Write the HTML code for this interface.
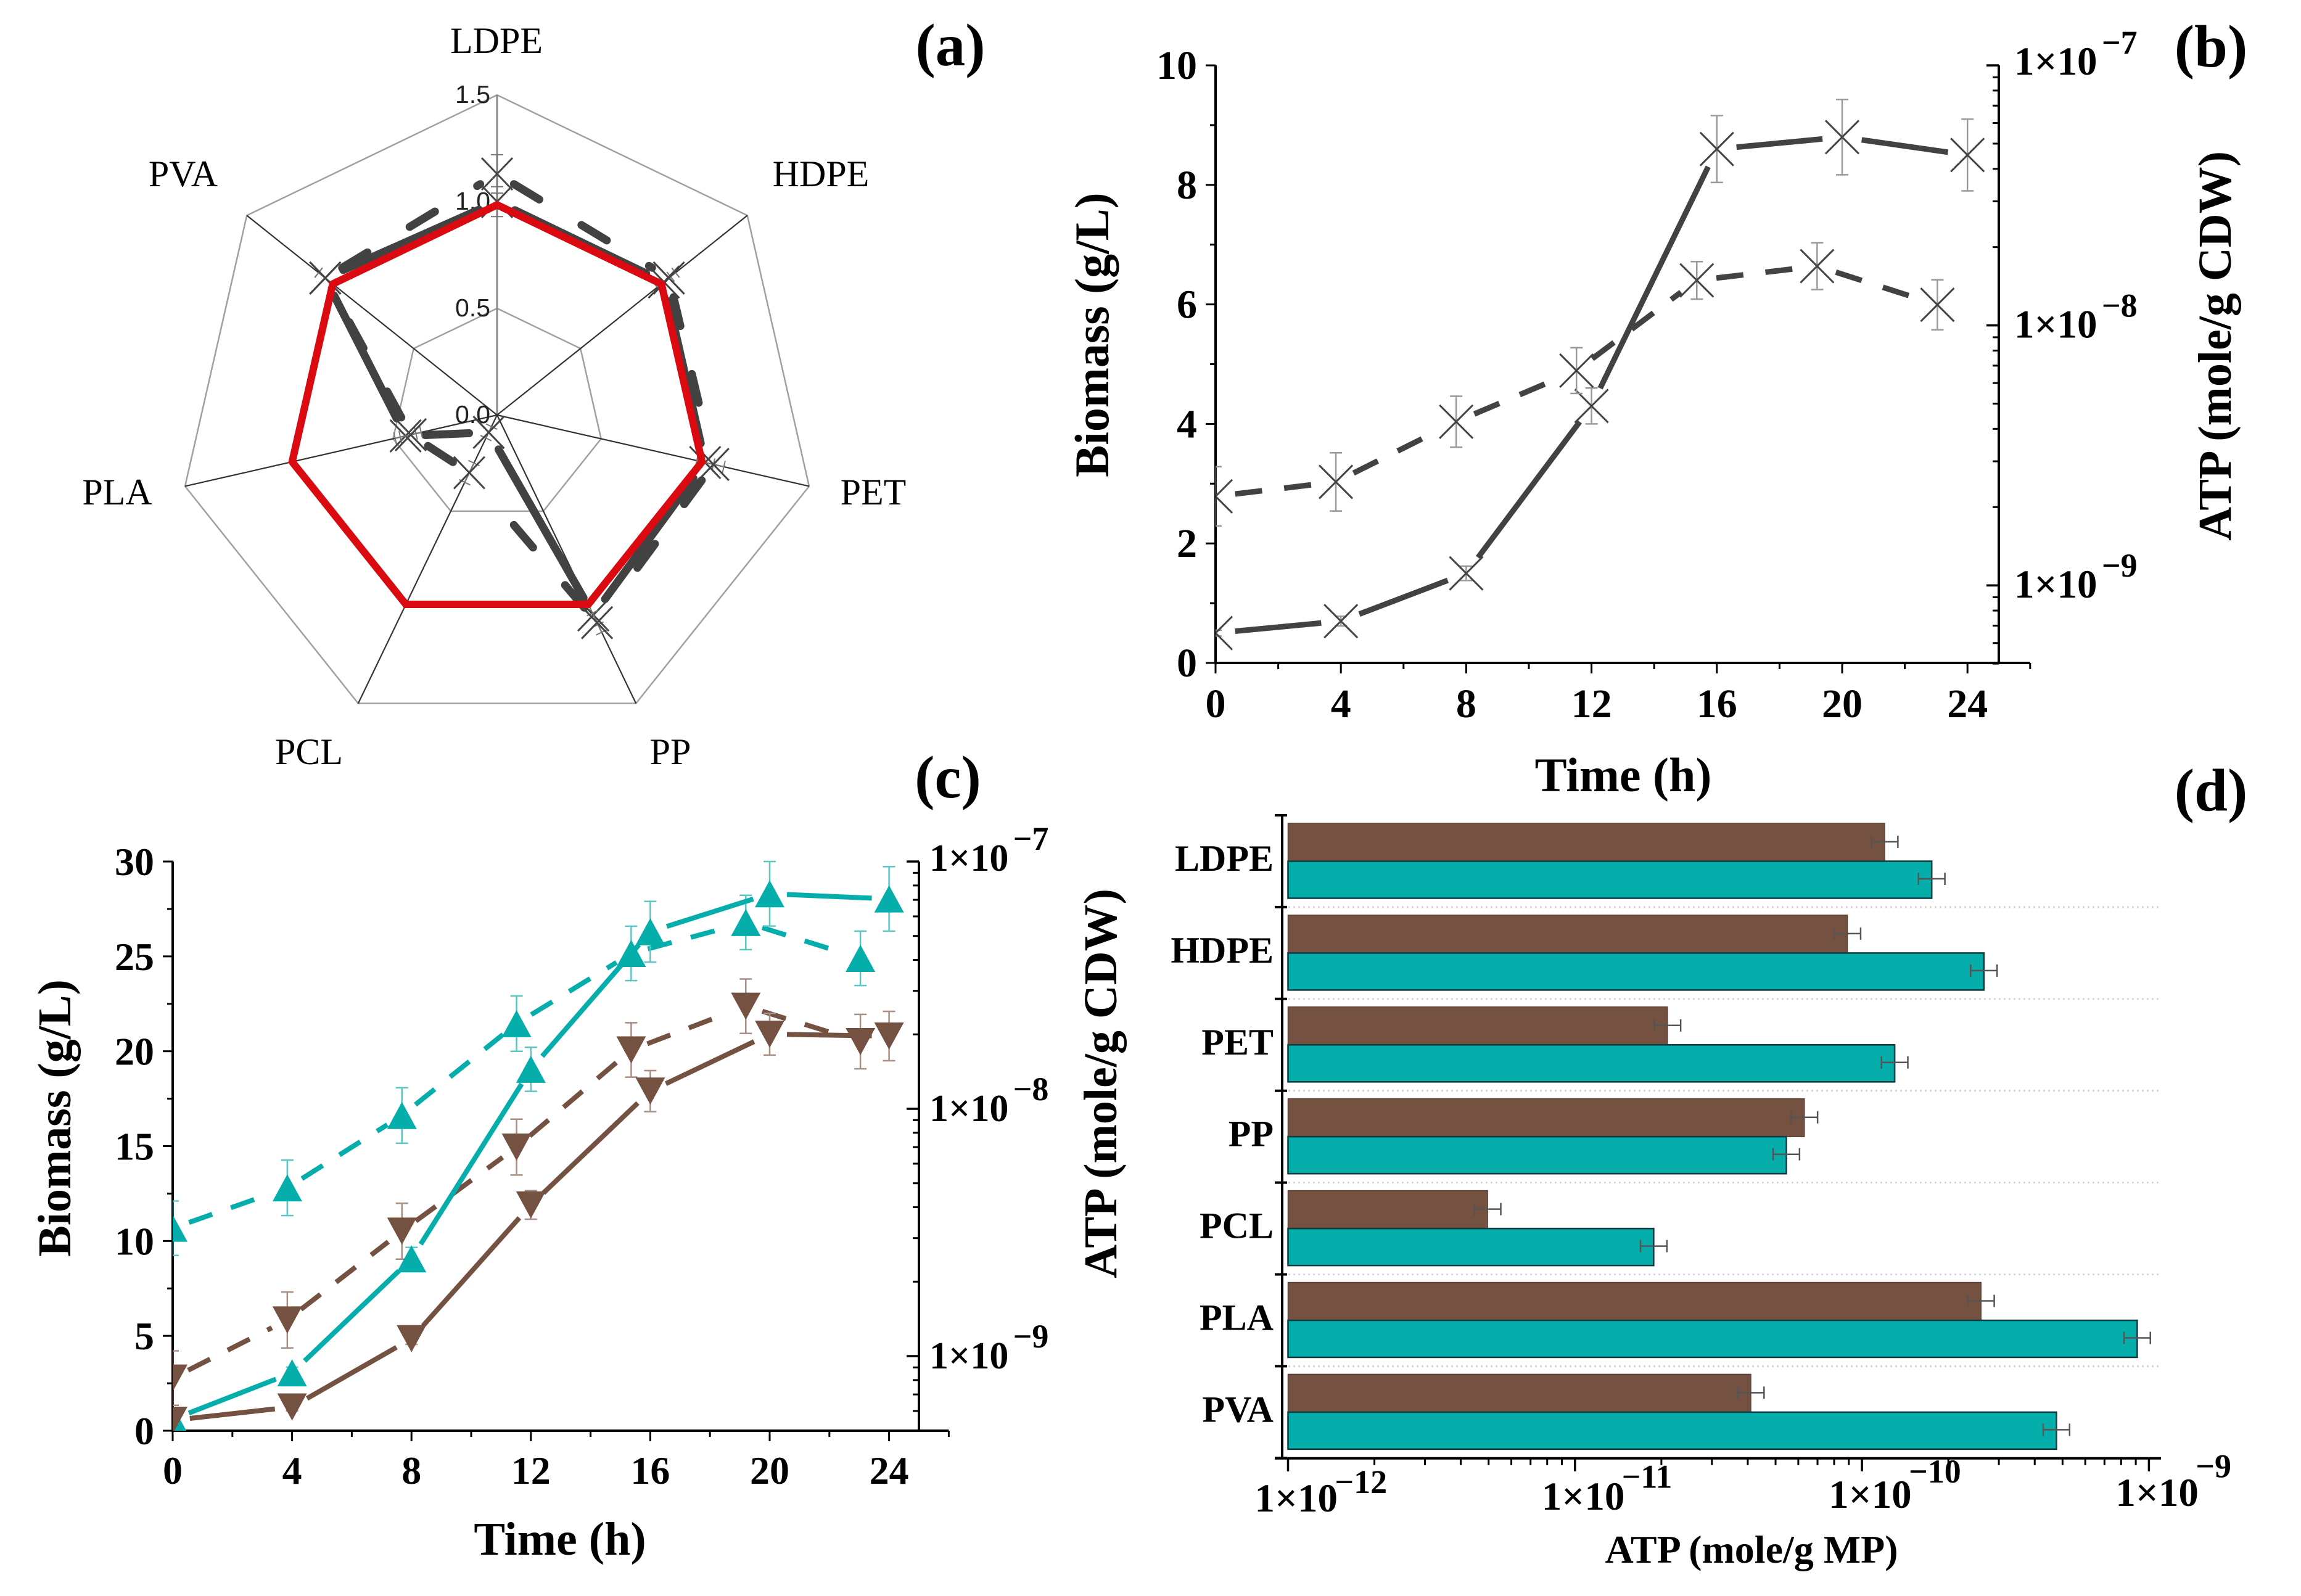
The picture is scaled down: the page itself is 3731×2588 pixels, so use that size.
<!DOCTYPE html>
<html lang="en">
<head>
<meta charset="utf-8">
<title>Biomass and ATP on plastics</title>
<style>
html,body{margin:0;padding:0;background:#fff;}
svg{display:block;}
text{font-family:"Liberation Serif",serif;fill:#000;}
</style>
</head>
<body>
<svg id="fig" xmlns="http://www.w3.org/2000/svg" width="3731" height="2588" viewBox="0 0 3731 2588">
<defs>
<clipPath id="clip-b"><rect x="1971" y="60" width="1300" height="1015"/></clipPath>
<clipPath id="clip-c"><rect x="280" y="1350" width="1240" height="970"/></clipPath>
</defs>
<rect width="3731" height="2588" fill="#fff"/>
</svg>
<script>
// ---------- data ----------
const plastics = ['LDPE','HDPE','PET','PP','PCL','PLA','PVA'];
const radarTicks = [0,0.5,1,1.5];
const radarReference = [0.985,0.985,0.985,0.985,0.985,0.985,0.985];
const radarSolid = [1,1,1,1.04,0.09,0.44,1.03];
const radarSolidErr = [0.07,0.04,0.04,0.05,0.03,0.05,0.04];
const radarDashed = [1.13,1.03,1.04,1.08,0.3,0.415,1.03];
const radarDashedErr = [0.09,0.04,0.05,0.05,0.05,0.05,0.04];

const hours = [0,4,8,12,16,20,24];
const atpHours = [0,3.84,7.68,11.52,15.36,19.2,23.04];

const bBiomass = [0.5,0.7,1.5,4.3,8.6,8.8,8.5];
const bBiomassErr = [0.05,0.08,0.12,0.3,0.56,0.63,0.6];
const bAtp = [2.2e-9,2.5e-9,4.26e-9,6.7e-9,1.49e-8,1.69e-8,1.2e-8];
const bAtpErrDecades = [0.114,0.112,0.098,0.088,0.072,0.09,0.096];

const cTealBiomass = [0.6,3.05,9.06,19.05,26.3,28.3,28.03];
const cTealBiomassErr = [0.2,0.3,0.6,1.16,1.6,1.7,1.7];
const cTealAtp = [3.29e-9,4.79e-9,9.4e-9,2.21e-8,4.25e-8,5.67e-8,4.06e-8];
const cTealAtpErrDecades = [0.11,0.112,0.112,0.112,0.11,0.11,0.11];
const cBrownBiomass = [0.55,1.25,4.85,11.9,17.9,20.9,20.8];
const cBrownBiomassErr = [0.15,0.2,0.3,0.75,1.08,1.1,1.3];
const cBrownAtp = [8.15e-10,1.4e-9,3.2e-9,7.0e-9,1.73e-8,2.6e-8,1.87e-8];
const cBrownAtpErrDecades = [0.11,0.113,0.113,0.113,0.11,0.11,0.11];

const dBrownAtp = [1.2e-10,8.9e-11,2.1e-11,6.3e-11,4.96e-12,2.6e-10,4.1e-11];
const dTealAtp = [1.75e-10,2.66e-10,1.3e-10,5.45e-11,1.88e-11,9.1e-10,4.76e-10];
const dErrDecades = [0.046,0.046,0.046,0.046,0.046,0.046,0.046];

const xTickLabels = [0,4,8,12,16,20,24];
const bYTickLabels = [0,2,4,6,8,10];
const cYTickLabels = [0,5,10,15,20,25,30];
const atpExponents = [-7,-8,-9];
const dExponents = [-12,-11,-10,-9];

// ---------- helpers ----------
const NS = 'http://www.w3.org/2000/svg';
const root = document.getElementById('fig');
const TEAL = '#05adab';
const BROWN = '#755142';
const DARK = '#424242';

function add(parent, tag, attrs, name) {
  const el = document.createElementNS(NS, tag);
  for (const k in attrs) el.setAttribute(k, attrs[k]);
  
  
  parent.appendChild(el);
  return el;
}
function line(p, x1, y1, x2, y2, stroke, w, name, extra) {
  return add(p, 'line', Object.assign({x1, y1, x2, y2, stroke, 'stroke-width': w}, extra || {}), name);
}
function text(p, x, y, str, size, weight, anchor, name, extra) {
  const t = add(p, 'text', Object.assign({x, y, 'font-size': size, 'font-weight': weight, 'text-anchor': anchor}, extra || {}), name);
  t.textContent = str;
  return t;
}
function rotText(p, x, y, str, size, name) {
  return text(p, x, y, str, size, 'bold', 'middle', name, {transform: 'rotate(-90 ' + x + ' ' + y + ')'});
}
function group(name, clip) {
  const a = clip ? {'clip-path': 'url(#' + clip + ')'} : {};
  return add(root, 'g', a, name);
}
function sci(p, x, y, exp, size, expSize, rise, expDx, name) {
  text(p, x, y, '1×10', size, 'bold', 'start', name);
  const label = '\u2212' + Math.abs(exp);
  text(p, x + size * 2.09 + expDx, y - rise, label, expSize, 'bold', 'start', name + '-exponent');
}

// ---------- panel letters ----------
[['(a)',1541,106],['(b)',3585,108],['(c)',1537,1293],['(d)',3585,1314]].forEach(function (d) {
  text(root, d[1], d[2], d[0], 97, 'bold', 'middle', 'panel-label');
});

// ---------- panel a: radar ----------
(function () {
  const cx = 806, cy = 673, unit = 346;
  const n = plastics.length;
  const rx = function (v, i) { return cx + unit * v * Math.sin(2 * Math.PI * i / n); };
  const ry = function (v, i) { return cy - unit * v * Math.cos(2 * Math.PI * i / n); };
  const g = group('radar-chart');
  const ringMax = radarTicks[radarTicks.length - 1];
  radarTicks.slice(1).forEach(function (t) {
    const pts = plastics.map(function (_, i) { return rx(t, i) + ',' + ry(t, i); }).join(' ');
    add(g, 'polygon', {points: pts, fill: 'none', stroke: '#a0a0a0', 'stroke-width': 2.5}, 'radar-grid-ring');
  });
  plastics.forEach(function (_, i) {
    line(g, cx, cy, rx(ringMax, i), ry(ringMax, i), i === 0 ? '#888' : '#333', i === 0 ? 3 : 2.2, 'radar-spoke');
  });
  radarTicks.forEach(function (t) {
    text(g, 795, cy - unit * t + 13, t.toFixed(1), 41, 'normal', 'end', 'radar-tick-label', {'style': 'font-family:"Liberation Sans",sans-serif;fill:#222'});
  });
  const labelSpots = [[805,86],[1331,302],[1416,818],[1087,1239],[501,1239],[190,818],[297,302]];
  plastics.forEach(function (nm, i) {
    text(g, labelSpots[i][0], labelSpots[i][1], nm, 60, 'normal', 'middle', 'radar-axis-label');
  });
  function ring(vals, dash, nm) {
    vals.forEach(function (v, i) {
      const j = (i + 1) % n;
      const x1 = rx(v, i), y1 = ry(v, i), x2 = rx(vals[j], j), y2 = ry(vals[j], j);
      const L = Math.hypot(x2 - x1, y2 - y1);
      const gap = Math.min(32, L * 0.28);
      const ux = (x2 - x1) / L, uy = (y2 - y1) / L;
      const extra = {'stroke-linecap': 'round'};
      if (dash) extra['stroke-dasharray'] = dash;
      line(g, x1 + ux * gap, y1 + uy * gap, x2 - ux * gap, y2 - uy * gap, DARK, 13, nm, extra);
    });
  }
  ring(radarSolid, null, 'radar-solid-segment');
  ring(radarDashed, '48 80', 'radar-dashed-segment');
  function marks(vals, errs, nm) {
    vals.forEach(function (v, i) {
      const x = rx(v, i), y = ry(v, i);
      const s = Math.sin(2 * Math.PI * i / n), c = Math.cos(2 * Math.PI * i / n);
      const x1 = rx(v + errs[i], i), y1 = ry(v + errs[i], i), x2 = rx(v - errs[i], i), y2 = ry(v - errs[i], i);
      line(g, x1, y1, x2, y2, '#777', 2, nm + '-error-bar');
      [[x1, y1], [x2, y2]].forEach(function (q) {
        line(g, q[0] - c * 10, q[1] - s * 10, q[0] + c * 10, q[1] + s * 10, '#777', 2, nm + '-error-cap');
      });
      line(g, x - 25, y - 26, x + 25, y + 26, '#444', 3, nm + '-marker');
      line(g, x - 25, y + 26, x + 25, y - 26, '#444', 3, nm + '-marker');
    });
  }
  marks(radarSolid, radarSolidErr, 'radar-solid');
  marks(radarDashed, radarDashedErr, 'radar-dashed');
  const red = plastics.map(function (_, i) { return rx(radarReference[i], i) + ',' + ry(radarReference[i], i); }).join(' ');
  add(g, 'polygon', {points: red, fill: 'none', stroke: '#db0a10', 'stroke-width': 12, 'stroke-linejoin': 'miter'}, 'radar-reference-line');
})();

// ---------- time-course panels ----------
function timePanel(cfg) {
  const g = group(cfg.name);
  const X = function (h) { return cfg.x0 + h * cfg.xUnit; };
  const Y = function (v) { return cfg.yBottom - (v / cfg.yMax) * (cfg.yBottom - cfg.yTop); };
  const YL = function (v) { return cfg.yTop + (-7 - Math.log10(v)) * cfg.decade; };

  // axes
  const rightX = X(25), xEnd = X(26);
  line(g, X(0), cfg.yTop, X(0), cfg.yBottom, '#000', 4, 'left-y-axis');
  line(g, rightX, cfg.yTop, rightX, cfg.yBottom, '#000', 4, 'right-y-axis');
  line(g, X(0) - 2, cfg.yBottom, xEnd, cfg.yBottom, '#000', 4, 'x-axis');
  for (let h = 0; h <= 26; h += 2) {
    line(g, X(h), cfg.yBottom, X(h), cfg.yBottom + (h % 4 === 0 ? 17 : 10), '#000', 3, 'x-tick');
  }
  xTickLabels.forEach(function (h) {
    text(g, X(h), cfg.xLabelY, String(h), cfg.tickSize, 'bold', 'middle', 'x-tick-label');
  });
  cfg.yTicks.forEach(function (v, i) {
    line(g, X(0) - 16, Y(v), X(0), Y(v), '#000', 3, 'left-y-tick');
    text(g, X(0) - 30, Y(v) + 22, String(v), cfg.tickSize, 'bold', 'end', 'left-y-tick-label');
    if (i < cfg.yTicks.length - 1) {
      const m = (v + cfg.yTicks[i + 1]) / 2;
      line(g, X(0) - 9, Y(m), X(0), Y(m), '#000', 3, 'left-y-minor-tick');
    }
  });
  atpExponents.forEach(function (e) {
    const base = Math.pow(10, e);
    line(g, rightX - 20, YL(base), rightX, YL(base), '#000', 3.5, 'right-y-tick');
    sci(g, rightX + cfg.sciDx, YL(base) + (e === -7 ? 15 : 20), e, cfg.sciSize, 54, 34, 6, 'right-y-tick-label');
    for (let k = 2; k < 10; k++) {
      const v = k * base / 10;
      if (v >= 5e-10) line(g, rightX - 10, YL(v), rightX, YL(v), '#000', 3, 'right-y-minor-tick');
    }
  });

  // titles
  rotText(g, cfg.leftTitleX, cfg.leftTitleY, 'Biomass (g/L)', cfg.titleSize, 'left-y-axis-title');
  if (cfg.rightTitleX) rotText(g, cfg.rightTitleX, cfg.rightTitleY, 'ATP (mole/g CDW)', 76, 'right-y-axis-title');
  text(g, cfg.timeX, cfg.timeY, 'Time (h)', cfg.titleSize, 'bold', 'middle', 'x-axis-title');

  // series
  const plot = group(cfg.name + '-plot', cfg.clip);
  cfg.series.forEach(function (s) {
    const isAtp = s.axis === 'atp';
    const px = s.xs.map(X);
    const py = s.ys.map(isAtp ? YL : Y);
    for (let i = 0; i < px.length - 1; i++) {
      const L = Math.hypot(px[i + 1] - px[i], py[i + 1] - py[i]);
      const ux = (px[i + 1] - px[i]) / L, uy = (py[i + 1] - py[i]) / L;
      const extra = {};
      if (s.dash) extra['stroke-dasharray'] = s.dash;
      line(plot, px[i] + ux * cfg.gap, py[i] + uy * cfg.gap, px[i + 1] - ux * cfg.gap, py[i + 1] - uy * cfg.gap, s.color, cfg.lineWidth, s.name + '-segment', extra);
    }
    px.forEach(function (x, i) {
      const v = s.ys[i], e = s.errs[i];
      const hi = isAtp ? YL(v * Math.pow(10, e)) : Y(v + e);
      const lo = isAtp ? YL(v / Math.pow(10, e)) : Y(v - e);
      line(plot, x, hi, x, lo, s.errColor, 2.5, s.name + '-error-bar');
      line(plot, x - 10, hi, x + 10, hi, s.errColor, 2.5, s.name + '-error-cap');
      line(plot, x - 10, lo, x + 10, lo, s.errColor, 2.5, s.name + '-error-cap');
    });
    px.forEach(function (x, i) {
      const y = py[i];
      if (s.marker === 'x') {
        line(plot, x - 27, y - 27, x + 27, y + 27, '#444', 3, s.name + '-marker');
        line(plot, x - 27, y + 27, x + 27, y - 27, '#444', 3, s.name + '-marker');
      } else if (s.marker === 'up') {
        add(plot, 'polygon', {points: (x - 24) + ',' + (y + 22) + ' ' + (x + 24) + ',' + (y + 22) + ' ' + x + ',' + (y - 22), fill: s.color}, s.name + '-marker');
      } else {
        add(plot, 'polygon', {points: (x - 24) + ',' + (y - 22) + ' ' + (x + 24) + ',' + (y - 22) + ' ' + x + ',' + (y + 22), fill: s.color}, s.name + '-marker');
      }
    });
  });
}

timePanel({
  name: 'biomass-atp-chart-b', clip: 'clip-b',
  x0: 1971, xUnit: 50.8, yTop: 106, yBottom: 1075, yMax: 10, decade: 421.6,
  yTicks: bYTickLabels, tickSize: 66, xLabelY: 1163, sciSize: 65, sciDx: 25,
  titleSize: 78, leftTitleX: 1797, leftTitleY: 543, rightTitleX: 3617, rightTitleY: 561,
  timeX: 2632, timeY: 1283, gap: 32, lineWidth: 9,
  series: [
    {name: 'b-biomass', axis: 'bio', xs: hours, ys: bBiomass, errs: bBiomassErr, color: DARK, errColor: '#999', marker: 'x'},
    {name: 'b-atp', axis: 'atp', xs: atpHours, ys: bAtp, errs: bAtpErrDecades, color: DARK, errColor: '#999', marker: 'x', dash: '44 36'}
  ]
});

timePanel({
  name: 'biomass-atp-chart-c', clip: 'clip-c',
  x0: 280, xUnit: 48.4, yTop: 1397, yBottom: 2320, yMax: 30, decade: 401,
  yTicks: cYTickLabels, tickSize: 64, xLabelY: 2406, sciSize: 62, sciDx: 17,
  titleSize: 76, leftTitleX: 114, leftTitleY: 1813, rightTitleX: 0, rightTitleY: 0,
  timeX: 908, timeY: 2521, gap: 28, lineWidth: 8,
  series: [
    {name: 'c-teal-atp', axis: 'atp', xs: atpHours, ys: cTealAtp, errs: cTealAtpErrDecades, color: TEAL, errColor: '#5cc6c3', marker: 'up', dash: '40 32'},
    {name: 'c-brown-atp', axis: 'atp', xs: atpHours, ys: cBrownAtp, errs: cBrownAtpErrDecades, color: BROWN, errColor: '#a88e83', marker: 'down', dash: '40 32'},
    {name: 'c-teal-biomass', axis: 'bio', xs: hours, ys: cTealBiomass, errs: cTealBiomassErr, color: TEAL, errColor: '#5cc6c3', marker: 'up'},
    {name: 'c-brown-biomass', axis: 'bio', xs: hours, ys: cBrownBiomass, errs: cBrownBiomassErr, color: BROWN, errColor: '#a88e83', marker: 'down'}
  ]
});

// ---------- panel d: log bars ----------
(function () {
  const g = group('atp-bar-chart-d');
  const x12 = 2088.5, dec = 465.3, top = 1322, band = 148.9, axisX = 2079;
  const bottom = top + band * plastics.length + 0.5;
  const X = function (v) { return x12 + (Math.log10(v) + 12) * dec; };
  for (let i = 1; i < plastics.length; i++) {
    line(g, axisX + 10, top + band * i, 3504, top + band * i, '#d8d8d8', 3, 'band-gridline', {'stroke-dasharray': '3 5'});
  }
  plastics.forEach(function (nm, i) {
    const y0 = top + band * i;
    const mid = y0 + 74.5;
    add(g, 'rect', {x: x12, y: y0 + 13, width: X(dBrownAtp[i]) - x12, height: 61.5, fill: BROWN, stroke: '#5a4034', 'stroke-width': 1.5}, 'bar-brown-' + nm.toLowerCase());
    add(g, 'rect', {x: x12, y: mid, width: X(dTealAtp[i]) - x12, height: 60, fill: TEAL, stroke: '#0c3b40', 'stroke-width': 2.5}, 'bar-teal-' + nm.toLowerCase());
    [[dBrownAtp[i], y0 + 43, 'brown'], [dTealAtp[i], y0 + 103, 'teal']].forEach(function (d) {
      const hi = d[0] * Math.pow(10, dErrDecades[i]), lo = d[0] / Math.pow(10, dErrDecades[i]);
      line(g, X(lo), d[1], X(hi), d[1], '#555', 2.5, 'error-bar-' + d[2]);
      line(g, X(lo), d[1] - 10, X(lo), d[1] + 10, '#555', 2.5, 'error-cap-' + d[2]);
      line(g, X(hi), d[1] - 10, X(hi), d[1] + 10, '#555', 2.5, 'error-cap-' + d[2]);
    });
    text(g, 2065, y0 + 90, nm, 60, 'bold', 'end', 'category-label');
  });
  line(g, axisX, top, axisX, bottom, '#000', 4, 'y-axis');
  line(g, axisX - 12, bottom, 3504, bottom, '#000', 4, 'x-axis');
  for (let i = 0; i <= plastics.length; i++) {
    line(g, axisX - 12, top + band * i, axisX + 8, top + band * i, '#000', 4, 'y-tick');
  }
  dExponents.forEach(function (e, i) {
    const base = Math.pow(10, e);
    line(g, X(base), bottom, X(base), bottom + 21, '#000', 3.5, 'x-tick');
    if (i < dExponents.length - 1) {
      for (let k = 2; k < 10; k++) {
        line(g, X(k * base), bottom, X(k * base), bottom + 11, '#000', 3, 'x-minor-tick');
      }
    }
    sci(g, X(base) - 54, 2451 - i * 3, e, 65, 54, 30 + i * 5.5, -6, 'x-tick-label');
  });
  text(g, 2840, 2534, 'ATP (mole/g MP)', 64, 'bold', 'middle', 'x-axis-title');
  rotText(g, 1810, 1757, 'ATP (mole/g CDW)', 76, 'y-axis-title');
})();
</script>
</body>
</html>
